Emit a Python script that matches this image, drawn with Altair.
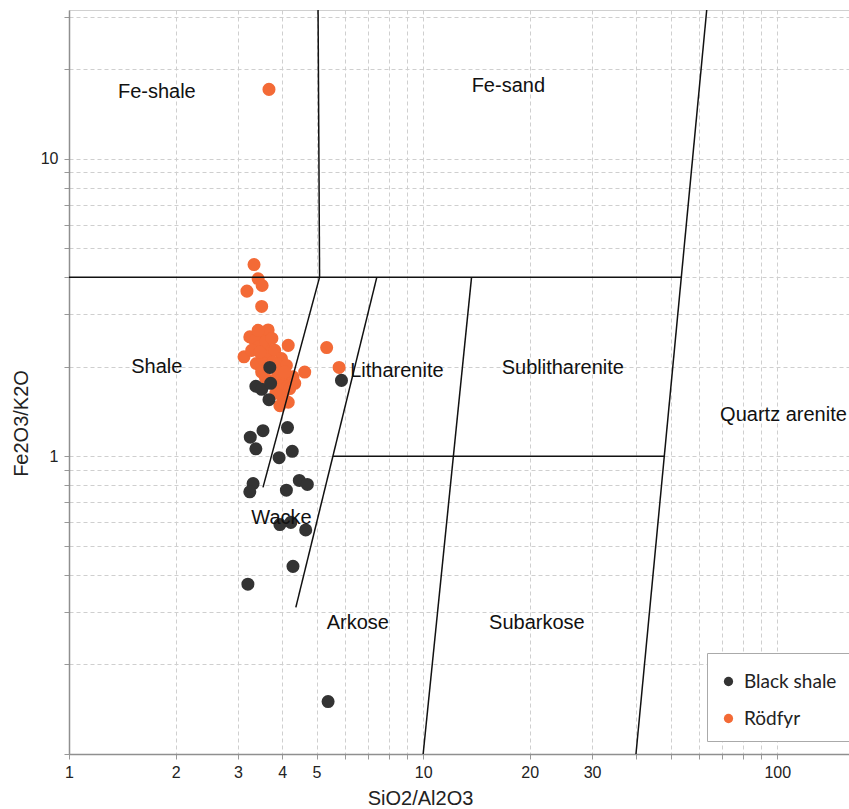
import altair as alt
import pandas as pd

# Sample series: SiO2/Al2O3 (x) and Fe2O3/K2O (y)
black_x = [3.69, 3.37, 3.50, 3.71, 3.67, 5.88, 3.53, 3.25, 3.37, 4.14, 3.92, 4.27,
           3.31, 3.24, 4.47, 4.71, 4.11, 3.94, 4.23, 4.66, 4.29, 3.20, 5.39]
black_y = [1.99, 1.72, 1.68, 1.76, 1.55, 1.80, 1.22, 1.16, 1.06, 1.25, 0.99, 1.04,
           0.81, 0.76, 0.83, 0.805, 0.77, 0.59, 0.60, 0.566, 0.427, 0.372, 0.150]

rodfyr_x = [3.67, 3.33, 3.42, 3.51, 3.18, 3.50, 3.24, 3.53, 3.65, 3.35, 3.44, 3.59,
            3.74, 4.16, 5.34, 3.12, 3.38, 3.53, 3.69, 3.81, 3.98, 3.86, 4.11, 3.64,
            3.50, 3.89, 4.02, 4.29, 4.63, 5.79, 3.79, 3.94, 4.15, 4.20, 4.02, 4.16,
            3.94, 3.84, 3.59, 3.28, 3.46, 4.07, 4.34, 3.76, 3.42]
rodfyr_y = [17.1, 4.41, 3.95, 3.75, 3.59, 3.19, 2.52, 2.58, 2.66, 2.45, 2.34, 2.42,
            2.49, 2.36, 2.32, 2.16, 2.05, 2.13, 2.24, 2.27, 2.13, 2.05, 2.02, 1.98,
            1.92, 1.92, 1.83, 1.85, 1.92, 1.99, 1.80, 1.73, 1.72, 1.69, 1.58, 1.52,
            1.48, 1.63, 1.83, 2.27, 2.24, 1.92, 1.76, 2.07, 2.65]

series_names = ["Black shale", "Rödfyr"]
series_colors = ["#333333", "#F36A36"]

# Classification field boundaries (start / end of each segment)
seg_x1 = [1.0, 5.05, 5.1, 7.4, 5.56, 13.7, 63.2]
seg_y1 = [4.0, 31.6, 4.0, 4.0, 1.0, 4.0, 31.6]
seg_x2 = [53.7, 5.1, 3.53, 4.37, 48.1, 10.0, 39.9]
seg_y2 = [4.0, 4.0, 0.787, 0.311, 1.0, 0.1, 0.1]

# Field names and where they are written
region_names = ["Fe-shale", "Fe-sand", "Shale", "Litharenite", "Sublitharenite",
                "Quartz arenite", "Wacke", "Arkose", "Subarkose"]
region_x = [1.77, 17.4, 1.77, 8.43, 24.8, 104.1, 3.98, 6.54, 20.95]
region_y = [16.7, 17.5, 1.99, 1.93, 1.98, 1.38, 0.619, 0.275, 0.275]

# Axis tick positions and which of them carry labels
x_ticks = [1, 2, 3, 4, 5, 6, 7, 8, 9, 10, 20, 30, 40, 50, 60, 70, 80, 90, 100]
x_labelled = [1, 2, 3, 4, 5, 10, 20, 30, 100]
y_ticks = [0.1, 0.2, 0.3, 0.4, 0.5, 0.6, 0.7, 0.8, 0.9,
           1, 2, 3, 4, 5, 6, 7, 8, 9, 10, 20, 30]
y_labelled = [1, 10]

points_df = pd.DataFrame({
    "SiO2/Al2O3": rodfyr_x + black_x,
    "Fe2O3/K2O": rodfyr_y + black_y,
    "Sample": ["Rödfyr"] * len(rodfyr_x) + ["Black shale"] * len(black_x),
})
seg_df = pd.DataFrame({"x1": seg_x1, "y1": seg_y1, "x2": seg_x2, "y2": seg_y2})
region_df = pd.DataFrame({"name": region_names, "x": region_x, "y": region_y})

FONT = "Liberation Sans"

x_scale = alt.Scale(type="log", domain=[1, 159.4], nice=False)
y_scale = alt.Scale(type="log", domain=[0.1, 31.6], nice=False)

common_axis = dict(
    grid=True, gridColor="#cfcfcf", gridDash=[4, 3], gridWidth=1,
    domainColor="#8f8f8f", domainWidth=1.5,
    tickColor="#999999", tickSize=5, tickWidth=1,
    labelFont=FONT, labelFontSize=16, labelColor="#222222",
    labelOverlap=False, labelFlush=False,
    titleFont=FONT, titleFontSize=20, titleFontWeight="normal", titleColor="#222222",
)

x_axis = alt.Axis(
    values=x_ticks,
    labelExpr="indexof(%s, datum.value) >= 0 ? '' + datum.value : ''" % x_labelled,
    labelPadding=5,
    title="SiO2/Al2O3", titleX=351, titleY=50, titleBaseline="alphabetic",
    **common_axis,
)
y_axis = alt.Axis(
    values=y_ticks,
    labelExpr="indexof(%s, datum.value) >= 0 ? '' + datum.value : ''" % y_labelled,
    labelPadding=6,
    title="Fe2O3/K2O", titleX=-42, titleY=413, titleBaseline="alphabetic",
    **common_axis,
)

points = alt.Chart(points_df).mark_circle(size=170, opacity=1).encode(
    x=alt.X("SiO2/Al2O3:Q", scale=x_scale, axis=x_axis),
    y=alt.Y("Fe2O3/K2O:Q", scale=y_scale, axis=y_axis),
    color=alt.Color(
        "Sample:N",
        scale=alt.Scale(domain=series_names, range=series_colors),
        legend=alt.Legend(
            title=" ", titleFontSize=5, titlePadding=2,
            orient="none", legendX=638, legendY=643,
            direction="vertical", fillColor="white", strokeColor="#aaaaaa",
            padding=12, cornerRadius=0,
            labelFont="Lato", labelFontSize=19, labelColor="#222222",
            labelOffset=6, rowPadding=17,
            symbolType="circle", symbolSize=86, symbolStrokeWidth=0,
        ),
    ),
)

bounds = alt.Chart(seg_df).mark_rule(color="#111111", strokeWidth=1.5).encode(
    x=alt.X("x1:Q", scale=x_scale, axis=x_axis),
    y=alt.Y("y1:Q", scale=y_scale, axis=y_axis),
    x2="x2:Q",
    y2="y2:Q",
)

labels = alt.Chart(region_df).mark_text(
    font=FONT, fontSize=20, color="#111111", align="center", baseline="middle"
).encode(
    x=alt.X("x:Q", scale=x_scale, axis=x_axis),
    y=alt.Y("y:Q", scale=y_scale, axis=y_axis),
    text="name:N",
)

chart = alt.layer(points, bounds, labels).properties(
    width=780,
    height=744,
    padding={"left": 69, "top": 10, "right": 0, "bottom": 55},
    autosize=alt.AutoSizeParams(type="none"),
    background="white",
).configure_view(stroke="#d0d0d0", strokeWidth=1)

chart.save("out.html", embed_options={"renderer": "svg", "actions": False})
